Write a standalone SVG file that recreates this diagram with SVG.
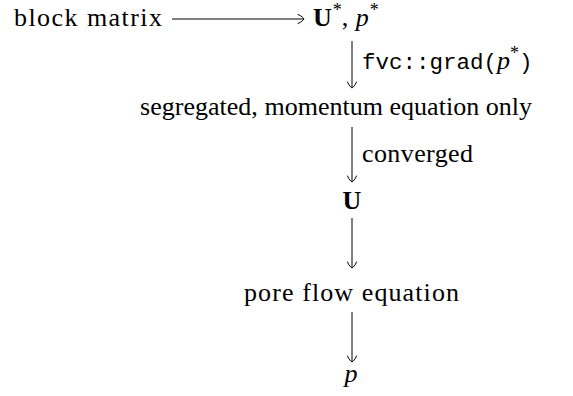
<svg xmlns="http://www.w3.org/2000/svg" width="573" height="396" viewBox="0 0 573 396">
<defs>
<marker id="to" viewBox="-8 -6 10 12" refX="0" refY="0" markerWidth="10" markerHeight="12" markerUnits="userSpaceOnUse" orient="auto" overflow="visible">
<path d="M -6 -4.5 C -2.5 -3.2 -0.6 -1 0 0 C -0.6 1 -2.5 3.2 -6 4.5" fill="none" stroke="#000" stroke-width="1" stroke-linecap="round"/>
</marker>
</defs>
<style>
.t{font-family:"Liberation Serif","Times New Roman",serif;font-size:26px;fill:#000}
.b{font-weight:bold}
.i{font-style:italic}
.m{font-family:"Liberation Mono","Courier New",monospace;font-size:22.5px}
.sup{font-size:18px}
.e{fill:none;stroke:#000;stroke-width:1;marker-end:url(#to)}
</style>
<rect width="573" height="396" fill="#fff"/>
<g id="connectors">
<path class="e" d="M 172 19 H 304"/>
<path class="e" d="M 352 41 V 88"/>
<path class="e" d="M 352 127 V 182"/>
<path class="e" d="M 352 218 V 268"/>
<path class="e" d="M 352 312 V 362"/>
</g>
<g id="block-matrix"><text class="t" x="14" y="26" textLength="148" lengthAdjust="spacing">block matrix</text></g>
<g id="U-star-p-star"><text class="t" x="313" y="26"><tspan class="b">U</tspan><tspan class="sup" dx="1" dy="-10">*</tspan><tspan dy="10">, </tspan><tspan class="i" dx="1">p</tspan><tspan class="sup" dx="1" dy="-10">*</tspan></text></g>
<g id="label-grad"><text class="t" x="362" y="69"><tspan class="m">fvc::grad(</tspan><tspan class="i">p</tspan><tspan class="sup" dy="-10">*</tspan><tspan class="m" dy="10">)</tspan></text></g>
<g id="segregated"><text class="t" x="140" y="115" textLength="392" lengthAdjust="spacing">segregated, momentum equation only</text></g>
<g id="label-converged"><text class="t" x="362" y="162" textLength="111" lengthAdjust="spacing">converged</text></g>
<g id="U"><text class="t b" x="352" y="209" text-anchor="middle">U</text></g>
<g id="pore-flow"><text class="t" x="244" y="301" textLength="215" lengthAdjust="spacing">pore flow equation</text></g>
<g id="p"><text class="t i" x="351" y="382" text-anchor="middle">p</text></g>
</svg>
